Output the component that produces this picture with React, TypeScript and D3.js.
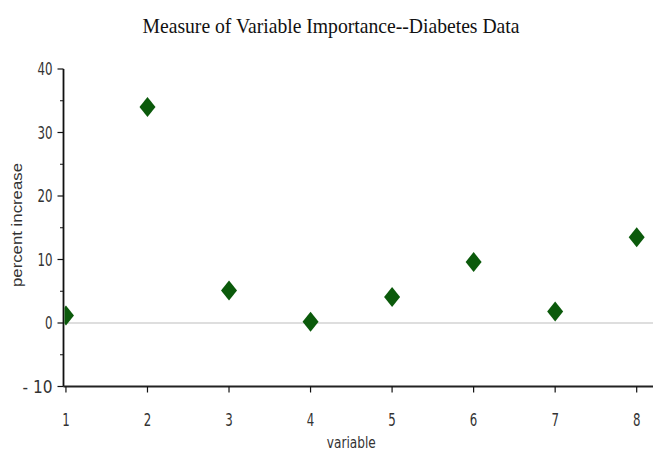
import React, { useEffect, useRef } from 'react';
import * as d3 from 'd3';

const variables = [1, 2, 3, 4, 5, 6, 7, 8];
const percentIncrease = [1.2, 34.0, 5.1, 0.2, 4.1, 9.6, 1.8, 13.5];
const yTicks = [-10, 0, 10, 20, 30, 40];
const yMinorTicks = [-5, 5, 15, 25, 35];

const W = 653;
const H = 454;

const App = () => {
  const svgRef = useRef<SVGSVGElement | null>(null);

  useEffect(() => {
    const svg = d3.select(svgRef.current);
    svg.selectAll('*').remove();

    const left = 63.5;
    const x = d3.scaleLinear().domain([0.97, 8.2]).range([left, W]);
    const y = d3.scaleLinear().domain([-10, 40]).range([386.5, 69]);
    const tickFont = '"Liberation Sans Narrow", "DejaVu Sans Condensed", sans-serif';

    // title
    svg.append('text')
      .attr('x', 331)
      .attr('y', 33)
      .attr('text-anchor', 'middle')
      .attr('textLength', 377)
      .attr('lengthAdjust', 'spacingAndGlyphs')
      .style('font-family', '"Liberation Serif", serif')
      .style('font-size', '21px')
      .attr('fill', '#111')
      .text('Measure of Variable Importance--Diabetes Data');

    // clip for plot area
    svg.append('clipPath').attr('id', 'plot-clip')
      .append('rect')
      .attr('x', left + 1).attr('y', 40)
      .attr('width', W - left).attr('height', 360);

    // zero reference line
    svg.append('line')
      .attr('x1', left).attr('x2', W)
      .attr('y1', y(0)).attr('y2', y(0))
      .attr('stroke', '#bdbdbd')
      .attr('stroke-width', 1.2);

    // y axis
    const yAxis = svg.append('g');
    yAxis.append('line')
      .attr('x1', left).attr('x2', left)
      .attr('y1', y(40)).attr('y2', y(-10))
      .attr('stroke', '#111').attr('stroke-width', 1.8);
    yTicks.forEach(t => {
      yAxis.append('line')
        .attr('x1', left - 6).attr('x2', left)
        .attr('y1', y(t)).attr('y2', y(t))
        .attr('stroke', '#111').attr('stroke-width', 1.2);
      const label = t < 0 ? '- ' + String(-t) : String(t);
      yAxis.append('text')
        .attr('x', left - 11)
        .attr('y', y(t) + 6)
        .attr('text-anchor', 'end')
        .attr('textLength', label.length * 7.5)
        .attr('lengthAdjust', 'spacingAndGlyphs')
        .style('font-family', tickFont)
        .style('font-size', '17px')
        .attr('fill', '#333')
        .text(label);
    });
    yMinorTicks.forEach(t => {
      yAxis.append('line')
        .attr('x1', left - 3.5).attr('x2', left)
        .attr('y1', y(t)).attr('y2', y(t))
        .attr('stroke', '#111').attr('stroke-width', 1);
    });

    svg.append('text')
      .attr('transform', `translate(22,${225}) rotate(-90)`)
      .attr('text-anchor', 'middle')
      .attr('textLength', 124)
      .attr('lengthAdjust', 'spacingAndGlyphs')
      .style('font-family', '"Liberation Sans", Arial, sans-serif')
      .style('font-size', '15px')
      .attr('fill', '#333')
      .text('percent increase');

    // x axis
    const xAxis = svg.append('g');
    xAxis.append('line')
      .attr('x1', left).attr('x2', W)
      .attr('y1', y(-10)).attr('y2', y(-10))
      .attr('stroke', '#222').attr('stroke-width', 2);
    variables.forEach(v => {
      xAxis.append('line')
        .attr('x1', x(v)).attr('x2', x(v))
        .attr('y1', y(-10)).attr('y2', y(-10) + 6)
        .attr('stroke', '#111').attr('stroke-width', 1.2);
      xAxis.append('text')
        .attr('x', x(v))
        .attr('y', 426)
        .attr('text-anchor', 'middle')
        .attr('textLength', 7.5)
        .attr('lengthAdjust', 'spacingAndGlyphs')
        .style('font-family', tickFont)
        .style('font-size', '17px')
        .attr('fill', '#333')
        .text(String(v));
    });
    svg.append('text')
      .attr('x', x(4.5))
      .attr('y', 448)
      .attr('text-anchor', 'middle')
      .attr('textLength', 49)
      .attr('lengthAdjust', 'spacingAndGlyphs')
      .style('font-family', tickFont)
      .style('font-size', '15px')
      .attr('fill', '#333')
      .text('variable');

    // diamonds
    const hw = 8;
    const hh = 10;
    svg.append('g')
      .attr('clip-path', 'url(#plot-clip)')
      .selectAll('path')
      .data(variables.map((v, i) => ({ v, p: percentIncrease[i] })))
      .enter()
      .append('path')
      .attr('d', d => {
        const cx = x(d.v);
        const cy = y(d.p);
        return `M${cx},${cy - hh}L${cx + hw},${cy}L${cx},${cy + hh}L${cx - hw},${cy}Z`;
      })
      .attr('fill', '#0b5a0b');
  }, []);

  return (
    <svg
      ref={svgRef}
      width={W}
      height={H}
      style={{ position: 'absolute', left: 0, top: 0, background: '#fff' }}
    />
  );
};

export default App;
